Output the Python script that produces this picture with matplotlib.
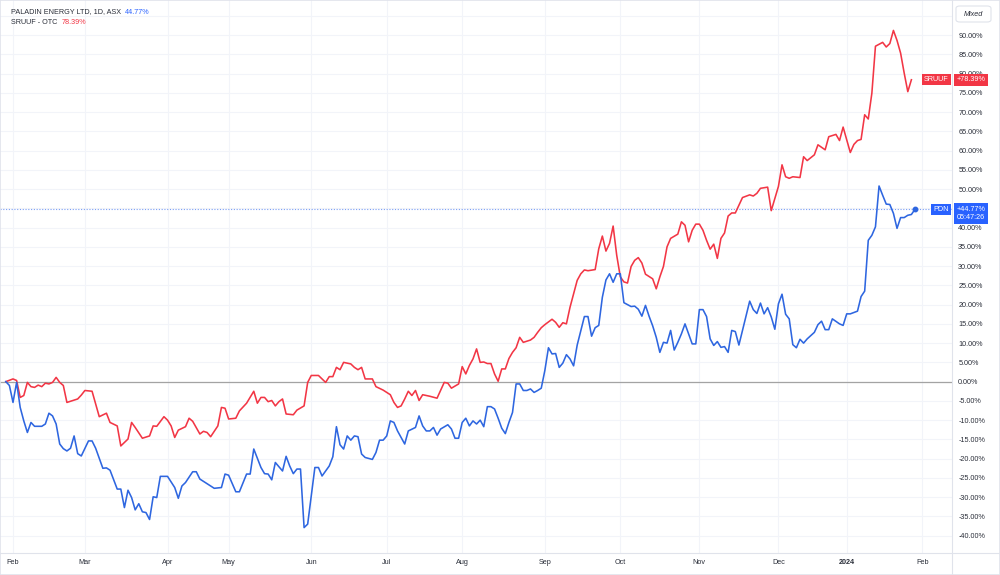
import matplotlib
matplotlib.use("Agg")
import matplotlib.pyplot as plt
import matplotlib.transforms as mtransforms
from matplotlib.patches import FancyBboxPatch
from matplotlib.lines import Line2D

plt.rcParams['font.family'] = ['Liberation Sans', 'DejaVu Sans']

# ---------------- data ----------------
# x = ASX trading-day index (0 = 1 Feb 2023)
month_ticks = [0, 20, 43, 60, 83, 104, 125, 148, 169, 191, 213, 232, 253]
month_labels = ['Feb', 'Mar', 'Apr', 'May', 'Jun', 'Jul', 'Aug', 'Sep',
                'Oct', 'Nov', 'Dec', '2024', 'Feb']
pct_ticks = [-40, -35, -30, -25, -20, -15, -10, -5, 0, 5, 10, 15, 20, 25, 30,
             35, 40, 45, 50, 55, 60, 65, 70, 75, 80, 85, 90, 95]
# tick labels hidden behind the last-price box / unit button in the reference
hidden_ticks = [45, 95]

pdn_name = 'PALADIN ENERGY LTD, 1D, ASX'
pdn_short = 'PDN'
pdn_countdown = '05:47:26'
sruuf_name = 'SRUUF - OTC'
sruuf_short = 'SRUUF'
unit_label = 'Mixed'

sruuf_day = [-2, 0, 1, 2, 3, 4, 5, 6, 7, 8, 9, 10, 11, 12, 13, 14, 15, 16, 18, 19,
             20, 22, 24, 26, 27, 29, 30, 32, 33, 34, 36, 38, 39, 40, 42, 43, 44, 45,
             46, 48, 49, 50, 52, 53, 54, 55, 57, 58, 59, 60, 62, 63, 65, 67, 68, 69,
             70, 71, 72, 73, 74, 75, 76, 78, 79, 81, 82, 83, 85, 87, 88, 89, 90, 91,
             92, 94, 95, 96, 97, 98, 100, 101, 103, 105, 106, 107, 108, 109, 110,
             111, 112, 113, 114, 116, 118, 120, 121, 122, 124, 125, 126, 127, 128,
             129, 130, 131, 132, 133, 134, 135, 136, 137, 138, 139, 140, 141, 142,
             144, 145, 146, 147, 148, 150, 151, 152, 153, 154, 155, 157, 158, 159,
             160, 162, 163, 164, 165, 166, 167, 168, 169, 170, 171, 172, 173, 174,
             175, 176, 177, 178, 179, 180, 181, 182, 183, 185, 186, 187, 188, 189,
             190, 191, 192, 193, 194, 195, 196, 197, 198, 199, 200, 201, 203, 205,
             206, 207, 208, 210, 211, 213, 214, 215, 216, 217, 219, 220, 221, 223,
             224, 226, 227, 229, 230, 231, 233, 234, 235, 236, 237, 238, 239, 240,
             242, 243, 244, 245, 246, 247, 248, 249, 250]
sruuf_pct = [0.0, 0.7, 0.3, -4.1, -3.6, -0.2, -1.3, -1.5, -0.9, -1.3, -0.4, -0.6, -0.2,
             1.1, -0.2, -1.0, -5.4, -5.1, -4.5, -3.5, -2.3, -2.5, -9.1, -8.2, -10.6,
             -11.5, -16.7, -14.9, -10.6, -11.9, -14.7, -14.1, -11.5, -11.6, -9.1,
             -10.0, -11.5, -14.5, -12.6, -11.7, -9.5, -10.3, -13.6, -12.9, -13.2,
             -14.3, -11.5, -6.7, -6.9, -9.7, -9.5, -7.6, -5.6, -2.5, -5.6, -4.1,
             -4.1, -5.2, -4.9, -6.3, -5.2, -4.5, -8.4, -8.6, -7.4, -6.3, -0.2, 1.6,
             1.6, -0.2, 1.3, 1.3, 3.7, 3.1, 5.0, 4.6, 3.7, 3.1, 3.7, 0.7, 0.7, -1.3,
             -2.2, -3.4, -5.4, -6.7, -6.3, -4.5, -2.5, -3.6, -2.3, -4.9, -3.4, -3.8,
             -4.3, -0.2, -0.4, -1.7, -0.6, 3.9, 2.0, 4.2, 5.9, 8.5, 5.0, 5.1, 4.7,
             4.7, 2.0, 0.1, 3.3, 3.3, 6.0, 7.6, 8.8, 11.5, 10.2, 10.8, 11.5, 12.8,
             14.0, 14.8, 16.2, 15.4, 14.1, 15.3, 15.0, 19.3, 26.3, 28.0, 29.0, 28.8,
             29.1, 34.5, 37.8, 33.9, 35.9, 40.4, 32.8, 27.2, 25.9, 25.6, 29.9, 31.5,
             32.2, 30.8, 27.9, 27.3, 26.7, 24.1, 27.2, 29.9, 35.0, 37.2, 38.3, 41.5,
             40.6, 36.3, 39.3, 40.9, 40.9, 39.3, 36.7, 34.4, 35.7, 32.0, 37.2, 38.6,
             43.0, 43.8, 43.8, 47.8, 48.5, 48.2, 48.9, 50.2, 50.5, 44.4, 50.7, 56.3,
             53.2, 52.8, 53.2, 53.0, 58.4, 57.4, 58.9, 61.5, 60.2, 63.6, 64.2, 62.6,
             66.1, 59.5, 61.6, 62.6, 62.9, 69.3, 68.2, 74.9, 87.1, 88.1, 86.9, 87.8,
             91.2, 88.6, 85.3, 80.1, 75.3, 78.39]

pdn_day = [-2, -1, 0, 1, 2, 3, 4, 5, 6, 8, 9, 10, 11, 12, 13, 14, 15, 16, 17, 18, 19,
           21, 22, 23, 25, 26, 27, 29, 30, 31, 32, 33, 34, 35, 36, 37, 38, 39, 40, 41,
           43, 45, 46, 47, 48, 50, 51, 52, 54, 56, 58, 59, 60, 62, 63, 65, 66, 67,
           69, 70, 71, 72, 73, 75, 76, 77, 78, 79, 80, 81, 82, 84, 85, 86, 88, 89,
           90, 91, 92, 93, 94, 95, 96, 97, 98, 100, 101, 102, 103, 104, 105, 106,
           107, 109, 110, 112, 113, 114, 115, 116, 117, 118, 119, 121, 122, 123,
           124, 125, 126, 127, 128, 129, 130, 131, 132, 133, 134, 135, 136, 137,
           138, 139, 140, 141, 142, 143, 144, 145, 146, 147, 148, 149, 150, 151,
           152, 153, 154, 155, 156, 157, 159, 160, 161, 162, 163, 164, 165, 166,
           167, 168, 169, 170, 172, 173, 174, 175, 176, 177, 178, 179, 180, 181,
           182, 183, 184, 185, 186, 187, 188, 189, 190, 191, 192, 193, 194, 195,
           196, 197, 198, 199, 200, 201, 202, 203, 205, 206, 207, 208, 209, 210,
           211, 212, 213, 214, 215, 216, 217, 218, 219, 220, 221, 223, 224, 225,
           226, 227, 228, 230, 231, 232, 233, 235, 236, 237, 238, 239, 240, 241,
           242, 243, 244, 245, 246, 247, 248, 249, 250, 251]
pdn_pct = [0.0, -1.0, -5.4, -0.2, -6.7, -10.2, -13.2, -10.6, -11.6, -11.6, -11.0, -8.2,
           -8.9, -11.0, -16.2, -17.4, -18.0, -17.3, -14.1, -18.7, -19.3, -15.4, -15.4,
           -17.3, -22.5, -22.4, -23.0, -27.9, -27.9, -32.7, -28.2, -30.1, -33.3,
           -31.7, -33.8, -34.0, -35.8, -29.9, -30.1, -24.6, -24.6, -27.5, -30.3,
           -27.1, -26.2, -23.4, -23.4, -25.3, -26.5, -27.7, -27.5, -24.0, -24.3,
           -28.6, -28.6, -24.0, -24.0, -17.5, -22.3, -23.9, -24.0, -25.5, -21.0,
           -23.2, -19.4, -21.9, -23.9, -22.7, -22.7, -37.9, -37.0, -22.3, -22.3,
           -24.5, -21.9, -19.5, -11.7, -16.4, -17.5, -14.1, -15.2, -14.1, -14.3,
           -18.8, -19.7, -20.2, -18.4, -15.2, -15.2, -14.1, -10.2, -10.6, -12.8,
           -16.2, -12.8, -11.9, -8.9, -11.5, -12.8, -12.8, -11.9, -13.9, -12.3,
           -11.2, -12.3, -14.7, -14.7, -10.6, -9.5, -11.5, -10.2, -11.0, -10.0,
           -11.7, -6.5, -6.5, -7.1, -9.5, -12.1, -13.5, -10.6, -8.0, -0.6, -0.6,
           -2.3, -2.3, -1.9, -2.8, -2.3, -1.7, 2.9, 8.8, 7.2, 7.3, 3.7, 4.8, 7.0,
           5.9, 4.1, 9.5, 16.9, 16.9, 11.8, 14.0, 14.6, 21.9, 26.4, 28.0, 25.8,
           28.0, 28.0, 20.5, 19.5, 19.6, 18.8, 17.0, 19.8, 17.0, 14.5, 11.5, 7.6,
           10.2, 10.0, 13.3, 8.2, 10.2, 12.4, 15.0, 12.4, 9.8, 9.8, 18.7, 18.7,
           16.9, 11.1, 9.4, 10.4, 8.9, 9.1, 7.6, 13.3, 13.0, 9.5, 13.3, 20.9, 18.7,
           17.7, 20.4, 17.6, 19.2, 16.8, 13.6, 20.2, 22.7, 17.5, 16.3, 9.6, 8.8,
           11.0, 10.0, 11.1, 12.8, 14.8, 15.7, 13.5, 13.5, 16.3, 15.0, 14.6, 17.6,
           17.6, 18.3, 22.1, 23.5, 36.7, 38.0, 40.2, 50.8, 48.4, 46.1, 46.0, 43.7,
           39.8, 42.6, 42.6, 43.2, 43.4, 44.77]

# ---------------- style ----------------
RED = '#f23645'
BLUE = '#2962ff'
BLUE_LINE = '#2e66e0'
TXT = '#2a2e39'
GRID = '#f2f4f9'
SEP = '#e0e3eb'
FS = 5.2

W, H = 1000, 575
fig = plt.figure(figsize=(W / 100, H / 100), dpi=100)
fig.patch.set_facecolor('white')

ax = fig.add_axes([0, 22 / H, 952 / W, 553 / H])
ax.set_facecolor('white')
ax.set_xlim(-3.62, 261.3)
ax.set_ylim(-44.5, 99.1)

for s in ['top', 'left', 'bottom', 'right']:
    ax.spines[s].set_visible(False)

# month ticks (grid) with labels drawn as texts so the year label can be bold
ax.set_xticks(month_ticks)
ax.set_xticklabels([''] * len(month_ticks))
ax.tick_params(axis='x', length=0)
xtrans = mtransforms.blended_transform_factory(ax.transData, ax.transAxes)
for pos, lab in zip(month_ticks, month_labels):
    ax.text(pos, -10 / 553, lab, transform=xtrans, ha='center', va='center',
            fontsize=FS, color=TXT, fontweight='bold' if lab.isdigit() else 'normal',
            clip_on=False)

ax.yaxis.tick_right()
ax.set_yticks(pct_ticks)
ax.set_yticklabels(['' if v in hidden_ticks else f'{v:.2f}%' for v in pct_ticks])
ax.tick_params(axis='y', length=0, pad=4.5, labelsize=FS, labelcolor=TXT)

ax.grid(True, color=GRID, lw=0.8)
ax.set_axisbelow(True)

# zero line
ax.axhline(0, color='#a3a3a3', lw=0.9, zorder=2)
# last price dotted line of PDN
ax.axhline(pdn_pct[-1], color='#7a9ef5', lw=0.8, ls=(0, (1, 1.5)), zorder=2)

ax.plot(sruuf_day, sruuf_pct, color=RED, lw=1.15, zorder=3, solid_joinstyle='round')
ax.plot(pdn_day, pdn_pct, color=BLUE_LINE, lw=1.15, zorder=4, solid_joinstyle='round')
ax.plot([pdn_day[-1]], [pdn_pct[-1]], 'o', color=BLUE_LINE, ms=3.2, zorder=5)

# right-side labels
trans = mtransforms.blended_transform_factory(ax.transAxes, ax.transData)
ax.annotate(sruuf_short, xy=(1, sruuf_pct[-1]), xycoords=trans,
            xytext=(-3.5, 0), textcoords='offset pixels',
            ha='right', va='center', fontsize=FS, color='white', zorder=10,
            bbox=dict(boxstyle='square,pad=0.3', fc=RED, ec='none'),
            annotation_clip=False)
ax.annotate(f'+{sruuf_pct[-1]:.2f}%', xy=(1, sruuf_pct[-1]), xycoords=trans,
            xytext=(5, 0), textcoords='offset pixels',
            ha='left', va='center', fontsize=FS, color='white', zorder=10,
            bbox=dict(boxstyle='square,pad=0.35', fc=RED, ec='none'),
            annotation_clip=False)
ax.annotate(pdn_short, xy=(1, pdn_pct[-1]), xycoords=trans,
            xytext=(-3.5, 0), textcoords='offset pixels',
            ha='right', va='center', fontsize=FS, color='white', zorder=10,
            bbox=dict(boxstyle='square,pad=0.3', fc=BLUE, ec='none'),
            annotation_clip=False)
ax.annotate(f'+{pdn_pct[-1]:.2f}%\n{pdn_countdown}', xy=(1, pdn_pct[-1]), xycoords=trans,
            xytext=(5, 3.5), textcoords='offset pixels',
            ha='left', va='top', fontsize=FS, color='white', zorder=10,
            linespacing=1.3,
            bbox=dict(boxstyle='square,pad=0.35', fc=BLUE, ec='none'),
            annotation_clip=False)

# separators
fig.add_artist(Line2D([952 / W, 952 / W], [0, 1], color=SEP, lw=0.8))
fig.add_artist(Line2D([0, 1], [22 / H, 22 / H], color=SEP, lw=0.8))
fig.add_artist(plt.Rectangle((0, 0), 1, 1, transform=fig.transFigure, fill=False,
                             ec=SEP, lw=1.2))

# unit button
fig.add_artist(FancyBboxPatch((956 / W, 1 - 22 / H), 35 / W, 16 / H,
                              boxstyle='round,pad=0,rounding_size=0.004',
                              transform=fig.transFigure, fc='white', ec=SEP, lw=0.8,
                              zorder=20))
fig.text(973.5 / W, 1 - 14 / H, unit_label, ha='center', va='center', fontsize=FS,
         color=TXT, zorder=21, fontstyle='italic')

# legend (top-left)
fig.canvas.draw()
r = fig.canvas.get_renderer()
t1 = fig.text(11 / W, 1 - 12 / H, pdn_name, ha='left', va='center', fontsize=FS, color=TXT)
bb = t1.get_window_extent(r)
fig.text((bb.x1 + 4) / W, 1 - 12 / H, f'{pdn_pct[-1]:.2f}%', ha='left', va='center',
         fontsize=FS, color=BLUE)
t2 = fig.text(11 / W, 1 - 23 / H, sruuf_name, ha='left', va='center', fontsize=FS, color=TXT)
bb2 = t2.get_window_extent(r)
fig.text((bb2.x1 + 4) / W, 1 - 23 / H, f'{sruuf_pct[-1]:.2f}%', ha='left', va='center',
         fontsize=FS, color=RED)

fig.savefig('out.png', dpi=100, facecolor='white')
